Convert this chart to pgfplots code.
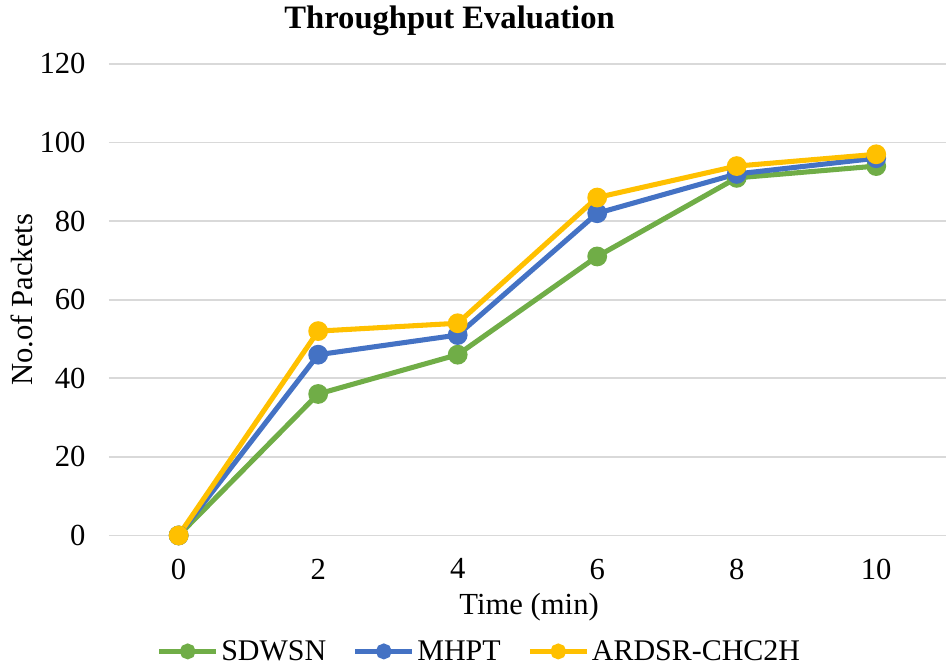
\documentclass[border=0pt]{standalone}
\usepackage{pgfplots}
\pgfplotsset{compat=1.18}
\usepackage{fontspec}
\setmainfont{Liberation Serif}

\definecolor{cgreen}{HTML}{70AD47}
\definecolor{cblue}{HTML}{4472C4}
\definecolor{cyellow}{HTML}{FFC000}
\definecolor{cgrid}{HTML}{D9D9D9}

\begin{document}
\begin{tikzpicture}
\path[use as bounding box] (-134.13pt,-97.5pt) rectangle (579.12pt,402pt);
\begin{axis}[
  at={(0,0)}, anchor=origin,
  scale only axis,
  width=628.5pt, height=354pt,
  xmin=-0.5, xmax=5.5,
  ymin=0, ymax=120,
  xtick={0,1,2,3,4,5},
  xticklabels={0,2,4,6,8,10},
  ytick={0,20,...,120},
  axis line style={draw=none},
  major tick length=0pt,
  ymajorgrids,
  grid style={cgrid, line width=1.3pt},
  /pgf/number format/assume math mode=true,
  tick label style={font=\fontsize{23}{26}\selectfont},
  yticklabel style={anchor=east, xshift=-14pt},
  xticklabel style={anchor=north, yshift=-14pt},
  xlabel={Time (min)},
  ylabel={No.of Packets},
  label style={font=\fontsize{23}{26}\selectfont},
  xlabel style={at={(axis description cs:0.502,-0.1525)}, anchor=center},
  ylabel style={at={(axis description cs:-0.104,0.5)}, anchor=center},
  title={Throughput Evaluation},
  title style={font=\bfseries\fontsize{24.5}{28}\selectfont, at={(axis description cs:0.407,1.074)}, anchor=center},
  legend columns=3,
  legend style={draw=none, fill=none, font=\fontsize{22.5}{26}\selectfont,
    at={(axis description cs:0.443,-0.246)}, anchor=center,
    /tikz/every even column/.append style={column sep=18pt}},
  legend image code/.code={
    \draw[#1, mark=none] (-0.75cm,0cm) -- (0.75cm,0cm);
    \draw[#1, mark size=4pt, only marks] plot coordinates {(0cm,0cm)};
  },
  every axis plot/.append style={line width=3.8pt, mark=*, mark size=5.5pt},
  clip=false,
]
\addplot[cgreen, mark options={fill=cgreen}] coordinates {
  (0,0) (1,36) (2,46) (3,71) (4,91) (5,94)
};
\addplot[cblue, mark options={fill=cblue}] coordinates {
  (0,0) (1,46) (2,51) (3,82) (4,92) (5,96)
};
\addplot[cyellow, mark options={fill=cyellow}] coordinates {
  (0,0) (1,52) (2,54) (3,86) (4,94) (5,97)
};
\legend{SDWSN,MHPT,ARDSR-CHC2H}
\end{axis}
\end{tikzpicture}
\end{document}
